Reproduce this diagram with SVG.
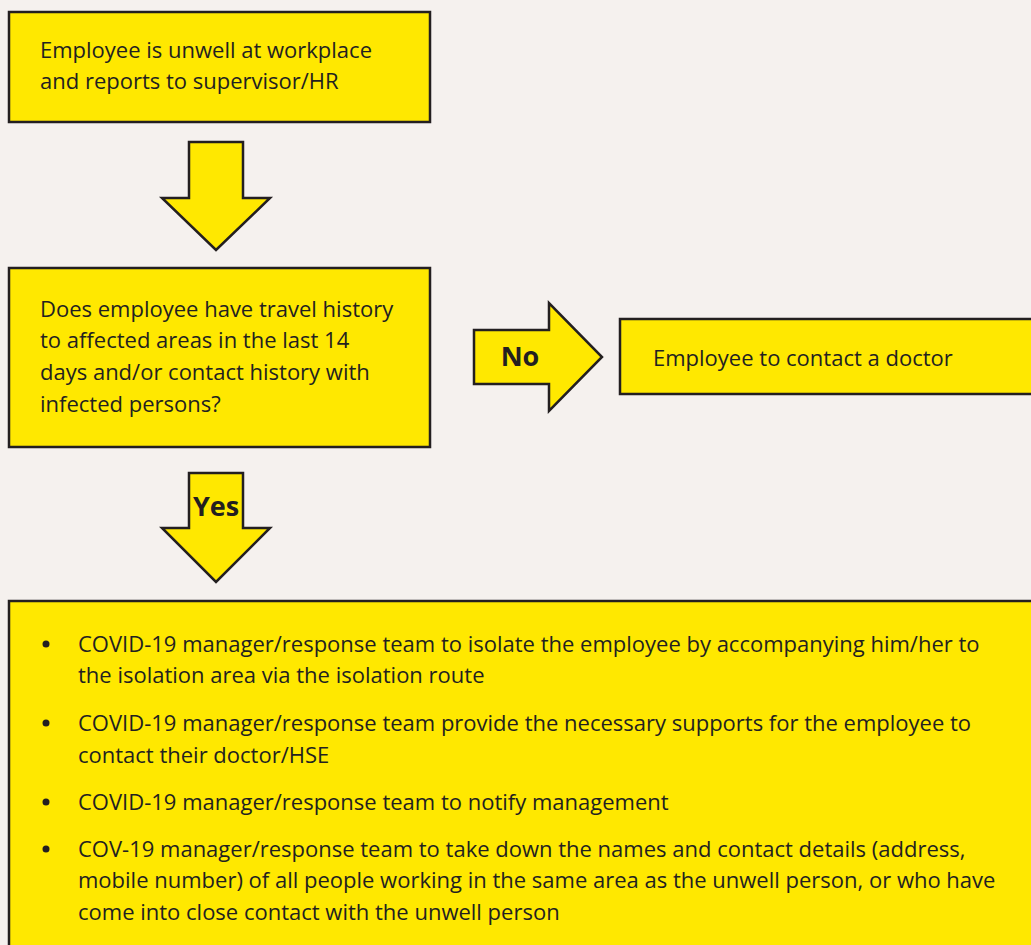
<svg xmlns="http://www.w3.org/2000/svg" width="1031" height="945" viewBox="0 0 1031 945">
<style>
.box{fill:#ffe800;stroke:#231f20;stroke-width:2.5}
.arr{fill:#ffe800;stroke:#231f20;stroke-width:2.5;stroke-linejoin:miter}
.t{font-family:"Open Sans","Noto Sans",sans-serif;font-size:22px;fill:#231f20}
.b{font-family:"Open Sans","Noto Sans",sans-serif;font-size:27px;font-weight:bold;fill:#231f20}
</style>
<rect width="1031" height="945" fill="#f5f1ee"/>
<g id="n1">
<rect class="box" x="9" y="12" width="421" height="110"/>
<text class="t" x="40" y="58">Employee is unwell at workplace</text>
<text class="t" x="40" y="89">and reports to supervisor/HR</text>
</g>
<g id="n2">
<rect class="box" x="9" y="268" width="421" height="179"/>
<text class="t" x="40" y="317">Does employee have travel history</text>
<text class="t" x="40" y="348">to affected areas in the last 14</text>
<text class="t" x="40" y="380">days and/or contact history with</text>
<text class="t" x="40" y="412">infected persons?</text>
</g>
<g id="n3">
<rect class="box" x="620" y="319" width="420" height="75"/>
<text class="t" x="653" y="366">Employee to contact a doctor</text>
</g>
<g id="n4">
<rect class="box" x="9" y="601" width="1040" height="360"/>
<g class="t">
<circle cx="46" cy="644" r="3.5" fill="#231f20"/>
<text x="78" y="652">COVID-19 manager/response team to isolate the employee by accompanying him/her to</text>
<text x="78" y="683">the isolation area via the isolation route</text>
<circle cx="46" cy="723" r="3.5" fill="#231f20"/>
<text x="78" y="731">COVID-19 manager/response team provide the necessary supports for the employee to</text>
<text x="78" y="763">contact their doctor/HSE</text>
<circle cx="46" cy="802" r="3.5" fill="#231f20"/>
<text x="78" y="810">COVID-19 manager/response team to notify management</text>
<circle cx="46" cy="849" r="3.5" fill="#231f20"/>
<text x="78" y="857">COV-19 manager/response team to take down the names and contact details (address,</text>
<text x="78" y="888">mobile number) of all people working in the same area as the unwell person, or who have</text>
<text x="78" y="920">come into close contact with the unwell person</text>
</g>
</g>
<g id="connectors">
<polygon class="arr" points="189,142 243,142 243,198 270,198 216,250 162,198 189,198"/>
<polygon class="arr" points="189,473 243,473 243,528 270,528 216,582 162,528 189,528"/>
<text class="b" x="216" y="516" text-anchor="middle">Yes</text>
<polygon class="arr" points="474,330 549,330 549,303 602,357 549,411 549,384 474,384"/>
<text class="b" x="520" y="366" text-anchor="middle">No</text>
</g>
</svg>
